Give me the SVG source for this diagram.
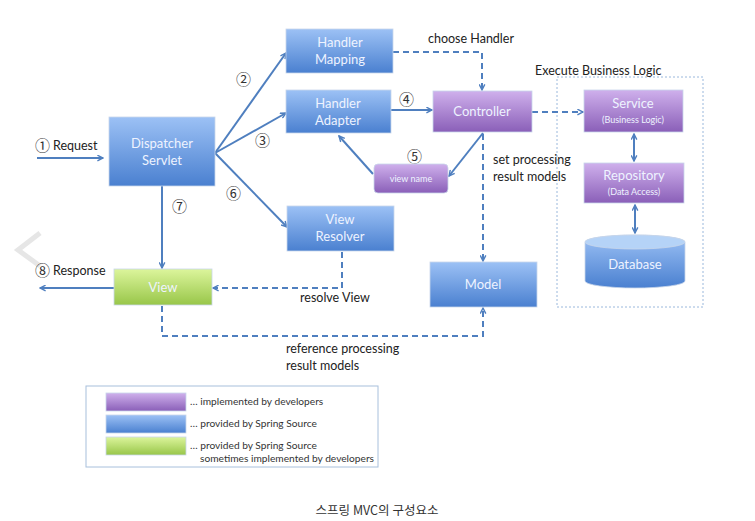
<svg xmlns="http://www.w3.org/2000/svg" width="755" height="521" viewBox="0 0 755 521">
<defs>
<linearGradient id="gb" x1="0" y1="0" x2="0" y2="1"><stop offset="0" stop-color="#9cc1f5"/><stop offset="1" stop-color="#4a80d0"/></linearGradient>
<linearGradient id="gp" x1="0" y1="0" x2="0" y2="1"><stop offset="0" stop-color="#cfb0ec"/><stop offset="1" stop-color="#8a5fb8"/></linearGradient>
<linearGradient id="gg" x1="0" y1="0" x2="0" y2="1"><stop offset="0" stop-color="#dcf59c"/><stop offset="1" stop-color="#98c649"/></linearGradient>
<marker id="ah" viewBox="0 0 10 10" refX="9" refY="5" markerWidth="7" markerHeight="7" orient="auto-start-reverse" markerUnits="userSpaceOnUse"><path d="M1,1 L9,5 L1,9" fill="none" stroke="#4f7fbf" stroke-width="2"/></marker>
<style>
.bx{stroke:#c8d6ea;stroke-width:0.8}
.b{fill:url(#gb)} .p{fill:url(#gp)} .g{fill:url(#gg)}
.t{font-family:Lato,"Liberation Sans",sans-serif;fill:#eef3ff;font-size:13px;text-anchor:middle}
.ts{font-family:Lato,"Liberation Sans",sans-serif;fill:#eef3ff;font-size:9px;text-anchor:middle}
.l{font-family:Lato,"Liberation Sans",sans-serif;fill:#222;font-size:12.5px}
.n{font-family:"Noto Sans CJK KR","DejaVu Sans",sans-serif;fill:#333;font-size:15px}
.lg{font-family:Lato,"Liberation Sans",sans-serif;fill:#333;font-size:10.2px}
.c{fill:none;stroke:#4f7fbf;stroke-width:2}
.d{stroke-dasharray:6 4}
</style>
</defs>
<rect width="755" height="521" fill="#fff"/>
<polyline points="40,233 18,250 40,266" fill="none" stroke="#e6e6e6" stroke-width="5"/>
<g id="business-logic-area">
<rect x="557" y="77" width="146" height="230" fill="none" stroke="#9ab8dc" stroke-width="1" stroke-dasharray="2 2"/>
<text class="l" x="535" y="75">Execute Business Logic</text>
</g>
<g id="connectors">
<line class="c" x1="37" y1="158" x2="103" y2="158" marker-end="url(#ah)"/>
<line class="c" x1="215" y1="153" x2="286" y2="53" marker-end="url(#ah)"/>
<line class="c" x1="215" y1="153" x2="286" y2="113" marker-end="url(#ah)"/>
<line class="c" x1="215" y1="153" x2="287" y2="227" marker-end="url(#ah)"/>
<line class="c" x1="162" y1="186" x2="162" y2="268" marker-end="url(#ah)"/>
<line class="c" x1="114" y1="288" x2="40" y2="288" marker-end="url(#ah)"/>
<polyline class="c d" points="393,52 482,52 482,90" marker-end="url(#ah)"/>
<line class="c" x1="391" y1="110" x2="432" y2="110" marker-end="url(#ah)"/>
<line class="c d" x1="532" y1="112" x2="583" y2="112" marker-end="url(#ah)"/>
<line class="c" x1="483" y1="133" x2="449" y2="176" marker-end="url(#ah)"/>
<line class="c" x1="373" y1="174" x2="339" y2="136" marker-end="url(#ah)"/>
<line class="c d" x1="483" y1="134" x2="483" y2="261" marker-end="url(#ah)"/>
<line class="c" x1="634" y1="134" x2="634" y2="161" marker-start="url(#ah)" marker-end="url(#ah)"/>
<line class="c" x1="635" y1="205" x2="635" y2="233" marker-start="url(#ah)" marker-end="url(#ah)"/>
<polyline class="c d" points="342,252 342,288 213,288" marker-end="url(#ah)"/>
<polyline class="c d" points="162,306 162,336 483,336 483,308" marker-end="url(#ah)"/>
</g>
<g id="labels">
<text class="n" x="35" y="151">①</text><text class="l" x="53" y="150">Request</text>
<text class="n" x="35" y="276">⑧</text><text class="l" x="53" y="275">Response</text>
<text class="n" x="236" y="85">②</text>
<text class="n" x="255" y="146">③</text>
<text class="n" x="226" y="199">⑥</text>
<text class="n" x="172" y="212">⑦</text>
<text class="n" x="399" y="105">④</text>
<text class="n" x="407" y="162">⑤</text>
<text class="l" x="428" y="43">choose Handler</text>
<text class="l" x="493" y="164">set processing</text>
<text class="l" x="493" y="181">result models</text>
<text class="l" x="300" y="302">resolve View</text>
<text class="l" x="286" y="353">reference processing</text>
<text class="l" x="286" y="370">result models</text>
</g>
<g id="dispatcher-servlet"><rect class="bx b" x="109" y="117" width="106" height="69"/><text class="t" x="162" y="148">Dispatcher</text><text class="t" x="162" y="165">Servlet</text></g>
<g id="handler-mapping"><rect class="bx b" x="286" y="29" width="107" height="44"/><text class="t" x="340" y="47">Handler</text><text class="t" x="340" y="64">Mapping</text></g>
<g id="handler-adapter"><rect class="bx b" x="286" y="90" width="105" height="43"/><text class="t" x="338" y="108">Handler</text><text class="t" x="338" y="125">Adapter</text></g>
<g id="controller"><rect class="bx p" x="433" y="91" width="99" height="41"/><text class="t" x="482" y="116">Controller</text></g>
<g id="view-name"><rect class="bx p" x="374" y="164" width="74" height="29" rx="4"/><text class="ts" x="411" y="182">view name</text></g>
<g id="service"><rect class="bx p" x="584" y="90" width="99" height="42"/><text class="t" x="633" y="108">Service</text><text class="ts" x="633" y="123">(Business Logic)</text></g>
<g id="repository"><rect class="bx p" x="584" y="163" width="100" height="40"/><text class="t" x="634" y="180">Repository</text><text class="ts" x="634" y="195">(Data Access)</text></g>
<g id="database"><path class="bx b" d="M585,242 L585,281 A50,7 0 0 0 685,281 L685,242 A50,7 0 0 0 585,242 Z"/><ellipse cx="635" cy="242" rx="50" ry="7" fill="#b5d3f7" stroke="#c8d6ea" stroke-width="0.8"/><text class="t" x="635" y="269">Database</text></g>
<g id="view-resolver"><rect class="bx b" x="287" y="206" width="107" height="45"/><text class="t" x="340" y="224">View</text><text class="t" x="340" y="241">Resolver</text></g>
<g id="view"><rect class="bx g" x="114" y="269" width="98" height="36"/><text class="t" x="163" y="292">View</text></g>
<g id="model"><rect class="bx b" x="430" y="262" width="107" height="45"/><text class="t" x="483" y="289">Model</text></g>
<g id="legend">
<rect x="86" y="386" width="292" height="81" fill="#fff" stroke="#a8c0dc" stroke-width="1"/>
<rect class="bx p" x="106" y="393" width="80" height="18"/>
<rect class="bx b" x="106" y="415" width="80" height="18"/>
<rect class="bx g" x="106" y="437" width="80" height="18"/>
<text class="lg" x="190" y="405">… implemented by developers</text>
<text class="lg" x="190" y="427">… provided by Spring Source</text>
<text class="lg" x="190" y="449">… provided by Spring Source</text>
<text class="lg" x="200" y="462">sometimes implemented by developers</text>
</g>
<text x="377" y="515" text-anchor="middle" font-family="'Noto Sans CJK KR',sans-serif" font-size="12.5" fill="#333">스프링 MVC의 구성요소</text>
</svg>
